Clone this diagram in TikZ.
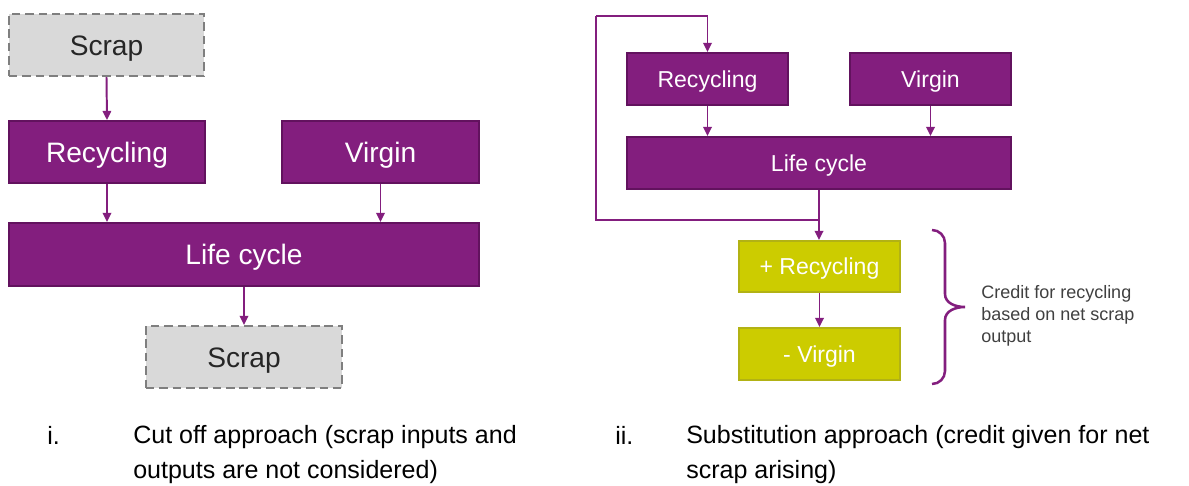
\documentclass[tikz,border=0pt]{standalone}
\usepackage{fontspec}
\setmainfont{Liberation Sans}
\usepackage{tikz}
\usetikzlibrary{positioning,arrows.meta,calc}
\definecolor{LcPurple}{RGB}{131, 30, 126}
\definecolor{LcPurpleDark}{RGB}{98, 18, 94}
\definecolor{LcOlive}{RGB}{204, 204, 0}
\definecolor{LcOliveDark}{RGB}{178, 178, 20}
\definecolor{LcGrey}{RGB}{217, 217, 217}
\definecolor{LcGreyDark}{RGB}{127, 127, 127}
\definecolor{LcText}{RGB}{64, 64, 64}

\begin{document}
\begin{tikzpicture}[
    stage/.style={rectangle, draw=LcPurpleDark, fill=LcPurple, line width=1.3pt, text=white, minimum height=1.55cm, text height=14.3pt, text depth=0pt, font=\fontsize{20}{24}\selectfont},
    stagesm/.style={stage, minimum height=1.3cm, text height=11.7pt, font=\fontsize{16.4}{20}\selectfont},
    credit/.style={stagesm, draw=LcOliveDark, fill=LcOlive, minimum width=4.025cm},
    scrapbox/.style={rectangle, draw=LcGreyDark, fill=LcGrey, line width=1.5pt, dash pattern=on 6pt off 3.5pt, text=black!85, minimum width=4.9cm, minimum height=1.55cm, text height=14.3pt, text depth=0pt, font=\fontsize{20}{24}\selectfont},
    flow/.style={draw=LcPurple, line width=1.4pt, -{Triangle[length=6.5pt,width=6pt]}},
    loopline/.style={draw=LcPurple, line width=1.4pt},
    caption/.style={anchor=base west, align=left, inner sep=0pt, font=\fontsize{17.8}{24.2}\selectfont}
]
    \useasboundingbox (0,0) rectangle (29.725,-12.15);

    % Left - cut off approach
    \node[scrapbox, minimum width=4.875cm] (scrapIn) at (2.6625, -1.125) {Scrap};
    \node[stage, minimum width=4.9cm] (recL) at (2.675, -3.8) {Recycling};
    \node[stage, minimum width=4.925cm] (virL) at (9.5125, -3.8) {Virgin};
    \node[stage, minimum width=11.75cm, minimum height=1.575cm] (lifeL) at (6.1, -6.3625) {Life cycle};
    \node[scrapbox] (scrapOut) at (6.1, -8.925) {Scrap};

    \draw[flow] (scrapIn.south) -- (recL.north);
    \draw[flow] (recL.south) -- (recL.south |- lifeL.north);
    \draw[flow] (virL.south) -- (virL.south |- lifeL.north);
    \draw[flow] (lifeL.south) -- (scrapOut.north);

    % Right - substitution approach
    \node[stagesm, minimum width=4.025cm] (recR) at (17.6875, -1.975) {Recycling};
    \node[stagesm, minimum width=4.025cm] (virR) at (23.2625, -1.975) {Virgin};
    \node[stagesm, minimum width=9.6cm] (lifeR) at (20.475, -4.075) {Life cycle};
    \node[credit, minimum height=1.275cm] (plusRec) at (20.4875, -6.6625) {+ Recycling};
    \node[credit] (minusVir) at (20.4875, -8.85) {- Virgin};

    \draw[flow] (recR.south) -- (recR.south |- lifeR.north);
    \draw[flow] (virR.south) -- (virR.south |- lifeR.north);
    \draw[flow] (lifeR.south) -- (lifeR.south |- plusRec.north);
    \draw[flow] (plusRec.south) -- (plusRec.south |- minusVir.north);

    % scrap loop back to recycling
    \coordinate (split) at ($(lifeR.south)+(0,-0.75)$);
    \coordinate (loopTop) at (14.9, -0.4);
    \draw[loopline] (split) -| (loopTop);
    \draw[flow] (loopTop) -| (recR.north);

    % brace and note
    \draw[LcPurple, line width=1.8pt] (23.3,-5.75) to[out=0,in=90] (23.625,-6.075) -- (23.625,-7.35)
        to[out=-90,in=180] (24.125,-7.675) to[out=180,in=90] (23.625,-8.0) -- (23.625,-9.275)
        to[out=-90,in=0] (23.3,-9.6);
    \node[anchor=west, align=left, text=LcText, inner sep=0pt, font=\fontsize{12.8}{15.6}\selectfont] (note) at (24.525, -7.9) {Credit for recycling\\based on net scrap\\output};

    % Captions (base = last line)
    \node[caption] (numL) at (1.175, -11.1) {i.};
    \node[caption] (capL) at (3.325, -11.95) {Cut off approach (scrap inputs and\\outputs are not considered)};
    \node[caption] (numR) at (15.375, -11.1) {ii.};
    \node[caption] (capR) at (17.15, -11.95) {Substitution approach (credit given for net\\scrap arising)};
\end{tikzpicture}
\end{document}
